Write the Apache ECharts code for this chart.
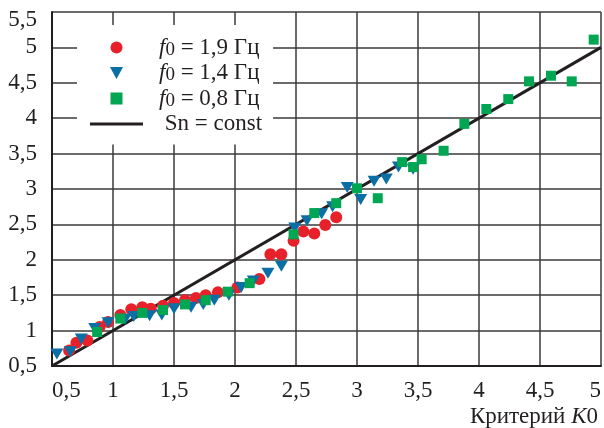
<!DOCTYPE html>
<html>
<head>
<meta charset="utf-8">
<script src="https://cdn.jsdelivr.net/npm/echarts@6/dist/echarts.min.js"></script>
<style>
  html, body { margin: 0; padding: 0; background: #fff; }
  #chart { width: 604px; height: 428px; }
</style>
</head>
<body>
<div id="chart"></div>
<script>
// f0 = 1,9 Гц
const pointsF19 = [
  [0.64, 0.72], [0.70, 0.83], [0.79, 0.86], [0.89, 1.05], [0.96, 1.12],
  [1.06, 1.22], [1.15, 1.30], [1.24, 1.33], [1.31, 1.31], [1.41, 1.35],
  [1.50, 1.39], [1.59, 1.43], [1.68, 1.46], [1.76, 1.50], [1.86, 1.54],
  [2.02, 1.61], [2.20, 1.73], [2.29, 2.08], [2.38, 2.08], [2.48, 2.27],
  [2.56, 2.40], [2.65, 2.37], [2.74, 2.49], [2.83, 2.60]
]
// f0 = 1,4 Гц
const pointsF14 = [
  [0.54, 0.67], [0.65, 0.70], [0.74, 0.88], [0.85, 1.03], [0.96, 1.11],
  [1.10, 1.16], [1.17, 1.20], [1.30, 1.21], [1.40, 1.22], [1.50, 1.31],
  [1.64, 1.33], [1.74, 1.37], [1.83, 1.43], [1.95, 1.50], [2.05, 1.61],
  [2.15, 1.70], [2.27, 1.81], [2.38, 1.91], [2.49, 2.45], [2.59, 2.55],
  [2.71, 2.65], [2.80, 2.75], [2.92, 3.02], [3.03, 2.85], [3.14, 3.11],
  [3.24, 3.14], [3.34, 3.31], [3.46, 3.28]
]
// f0 = 0,8 Гц
const pointsF08 = [
  [0.87, 0.98], [1.06, 1.17], [1.24, 1.25], [1.41, 1.29], [1.59, 1.37],
  [1.76, 1.43], [1.94, 1.55], [2.12, 1.67], [2.48, 2.36], [2.65, 2.66],
  [2.83, 2.80], [3.00, 3.01], [3.17, 2.87], [3.37, 3.38], [3.46, 3.31],
  [3.53, 3.42], [3.71, 3.54], [3.88, 3.92], [4.06, 4.13], [4.24, 4.27],
  [4.41, 4.52], [4.59, 4.60], [4.76, 4.52], [4.94, 5.11]
]
// Sn = const
const linePoints = [[0.5, 0.5], [5, 5]]

const seriesNames = ['f0 = 1,9 Гц', 'f0 = 1,4 Гц', 'f0 = 0,8 Гц', 'Sn = const']

const FONT = 'Liberation Serif'
const INK = '#231f20'
const FS = 23
const comma = v => String(v).replace('.', ',')

// маркеры
const TRI_DOWN = 'path://M0,0 L12,0 L6,11 Z'
const SQUARE = 'path://M0,0 L10,0 L10,10 L0,10 Z'
const BAR = 'path://M0,0 L53,0 L53,3 L0,3 Z'

const chart = echarts.init(document.getElementById('chart'))

const legendRich = {
  i: { fontFamily: FONT, fontStyle: 'italic', fontSize: FS, lineHeight: 24, color: INK },
  s: { fontFamily: FONT, fontSize: 19, lineHeight: 15, verticalAlign: 'bottom', color: INK },
  t: { fontFamily: FONT, fontSize: FS, lineHeight: 24, color: INK }
}

chart.setOption({
  backgroundColor: '#fff',
  animation: false,
  grid: { left: 52, right: 1, top: 12, bottom: 61 },
  legend: {
    orient: 'vertical',
    left: 77,
    top: 25,
    padding: [11, 11, 9, 13],
    backgroundColor: '#fff',
    itemWidth: 53,
    itemHeight: 12,
    itemGap: 2,
    data: [
      { name: seriesNames[0], icon: 'circle' },
      { name: seriesNames[1], icon: TRI_DOWN },
      { name: seriesNames[2], icon: SQUARE },
      { name: seriesNames[3], icon: BAR }
    ],
    formatter: name => {
      if (name.startsWith('f0')) return '{i|f}{s|0}{t|' + name.slice(2) + '}'
      return '{t| ' + name + '}'
    },
    textStyle: {
      fontFamily: FONT, fontSize: FS, color: INK,
      padding: [0, 0, 0, 11],
      rich: legendRich
    }
  },
  xAxis: {
    type: 'value',
    min: 0.5,
    max: 5,
    interval: 0.5,
    name: 'Критерий {i|K}0',
    nameLocation: 'end',
    nameGap: -3,
    nameTextStyle: {
      fontFamily: FONT, fontSize: FS, color: INK,
      align: 'right', verticalAlign: 'top',
      padding: [39, 0, 0, 0],
      rich: { i: { fontFamily: FONT, fontSize: FS, fontStyle: 'italic', color: INK } }
    },
    axisLine: { show: true, onZero: false, lineStyle: { color: INK, width: 2 } },
    axisTick: { show: false },
    axisLabel: {
      fontFamily: FONT, fontSize: FS, color: INK, margin: 13,
      alignMinLabel: 'left', alignMaxLabel: 'right',
      formatter: comma
    },
    splitLine: { show: true, lineStyle: { color: '#3a3a3a', width: 1.5 } }
  },
  yAxis: {
    type: 'value',
    min: 0.5,
    max: 5.5,
    interval: 0.5,
    axisLine: { show: true, onZero: false, lineStyle: { color: INK, width: 2 } },
    axisTick: { show: false },
    axisLabel: {
      fontFamily: FONT, fontSize: FS, color: INK, margin: 15, lineHeight: 16,
      verticalAlignMaxLabel: 'top',
      formatter: comma
    },
    splitLine: { show: true, lineStyle: { color: '#3a3a3a', width: 1.5 } }
  },
  series: [
    {
      name: seriesNames[3],
      type: 'line',
      data: linePoints,
      symbol: 'none',
      z: 1,
      lineStyle: { color: INK, width: 3 },
      itemStyle: { color: INK }
    },
    {
      name: seriesNames[0],
      type: 'scatter',
      data: pointsF19,
      symbol: 'circle',
      symbolSize: 12,
      z: 2,
      itemStyle: { color: '#e8202a', opacity: 1 }
    },
    {
      name: seriesNames[1],
      type: 'scatter',
      data: pointsF14,
      symbol: TRI_DOWN,
      symbolSize: [13, 11],
      z: 3,
      itemStyle: { color: '#0b6fa6', opacity: 1 }
    },
    {
      name: seriesNames[2],
      type: 'scatter',
      data: pointsF08,
      symbol: SQUARE,
      symbolSize: 10,
      z: 4,
      itemStyle: { color: '#00a651', opacity: 1 }
    }
  ]
})
</script>
</body>
</html>
